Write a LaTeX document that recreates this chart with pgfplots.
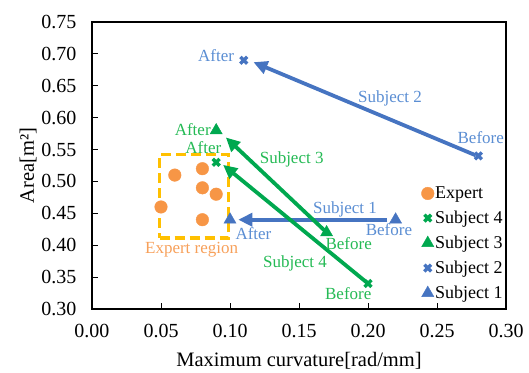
\documentclass[border=0pt]{standalone}
\usepackage{fontspec}
\setmainfont{Liberation Serif}
\usepackage{pgfplots}
\pgfplotsset{compat=1.18}
\usetikzlibrary{arrows.meta}
\definecolor{bl}{HTML}{4674C1}
\definecolor{blt}{HTML}{5B8ED3}
\definecolor{gr}{HTML}{00A84F}
\definecolor{grt}{HTML}{25BA55}
\definecolor{orn}{HTML}{F79646}
\definecolor{ornt}{HTML}{F7A05A}
\definecolor{yel}{HTML}{FFC000}
\begin{document}
\begin{tikzpicture}
\begin{axis}[name=ax,
  scale only axis, width=414pt, height=287pt,
  xmin=0, xmax=0.30, ymin=0.30, ymax=0.75,
  xtick={0,0.05,...,0.301}, ytick={0.30,0.35,...,0.751},
  xtick pos=bottom, ytick pos=left, tick align=inside,
  major tick length=6pt,
  axis line style={line width=1.2pt}, tick style={line width=1pt,black},
  /pgf/number format/assume math mode=true,
  /pgf/number format/.cd, fixed, fixed zerofill, precision=2, /pgfplots/.cd,
  tick label style={font=\fontsize{20}{23}\selectfont},
  xticklabel style={yshift=-12pt},
  yticklabel style={xshift=-12pt},
  xlabel={Maximum curvature[rad/mm]}, ylabel={Area[m²]},
  label style={font=\fontsize{20.5}{23}\selectfont},
  xlabel style={yshift=-7pt},
  ylabel style={yshift=-2pt},
  legend style={draw=none, fill=none, at={(0.997,0.02)}, anchor=south east,
    font=\fontsize{18}{21}\selectfont, row sep=7pt, inner sep=1pt,
    nodes={inner xsep=1pt}},
  legend cell align=left,
  clip=false,
]
% expert region box
\addplot[yel, line width=3.5pt, dash pattern=on 10pt off 5pt, forget plot] coordinates {(0.049,0.411) (0.099,0.411) (0.099,0.542) (0.049,0.542) (0.049,0.411)};
% arrows
\addplot[bl, line width=3.8pt, -{Triangle[length=14pt,width=13pt]}, forget plot] coordinates {(0.278,0.541) (0.117,0.687)};
\addplot[bl, line width=3.8pt, -{Triangle[length=14pt,width=13pt]}, forget plot] coordinates {(0.214,0.44) (0.106,0.44)};
\addplot[gr, line width=3.8pt, -{Triangle[length=14pt,width=13pt]}, forget plot] coordinates {(0.17,0.42) (0.097,0.569)};
\addplot[gr, line width=3.8pt, -{Triangle[length=14pt,width=13pt]}, forget plot] coordinates {(0.20,0.34) (0.095,0.526)};
% markers
\addplot[only marks, mark=*, mark size=6.3pt, orn, mark options={fill=orn, draw=orn}] coordinates {(0.05,0.46) (0.06,0.51) (0.08,0.52) (0.08,0.49) (0.09,0.48) (0.08,0.44)};
\addlegendentry{Expert}
\addplot[only marks, mark=x, mark size=4.8pt, gr, mark options={line width=3.4pt}] coordinates {(0.09,0.53) (0.20,0.34)};
\addlegendentry{Subject 4}
\addplot[only marks, mark=triangle*, mark size=7pt, gr, mark options={fill=gr}] coordinates {(0.09,0.58) (0.17,0.42)};
\addlegendentry{Subject 3}
\addplot[only marks, mark=x, mark size=4.8pt, bl, mark options={line width=3.4pt}] coordinates {(0.11,0.69) (0.28,0.54)};
\addlegendentry{Subject 2}
\addplot[only marks, mark=triangle*, mark size=7pt, bl, mark options={fill=bl}] coordinates {(0.10,0.44) (0.22,0.44)};
\addlegendentry{Subject 1}
% labels
\begin{scope}[font=\fontsize{17}{20}\selectfont]
\node[blt] at (axis cs:0.0899,0.698) {After};
\node[blt] at (axis cs:0.216,0.630) {Subject 2};
\node[blt] at (axis cs:0.2817,0.568) {Before};
\node[grt] at (axis cs:0.073,0.581) {After};
\node[grt] at (axis cs:0.0807,0.5535) {After};
\node[grt] at (axis cs:0.1447,0.535) {Subject 3};
\node[blt] at (axis cs:0.1833,0.4563) {Subject 1};
\node[blt] at (axis cs:0.117,0.4176) {After};
\node[blt] at (axis cs:0.2152,0.4239) {Before};
\node[grt] at (axis cs:0.186,0.402) {Before};
\node[ornt] at (axis cs:0.0722,0.3925) {Expert region};
\node[grt] at (axis cs:0.1471,0.3716) {Subject 4};
\node[grt] at (axis cs:0.1857,0.3246) {Before};
\end{scope}
\end{axis}
\pgfresetboundingbox
\path (ax.south west) ++(-92pt,-63pt) rectangle ++(529pt,372pt);
\end{tikzpicture}
\end{document}
